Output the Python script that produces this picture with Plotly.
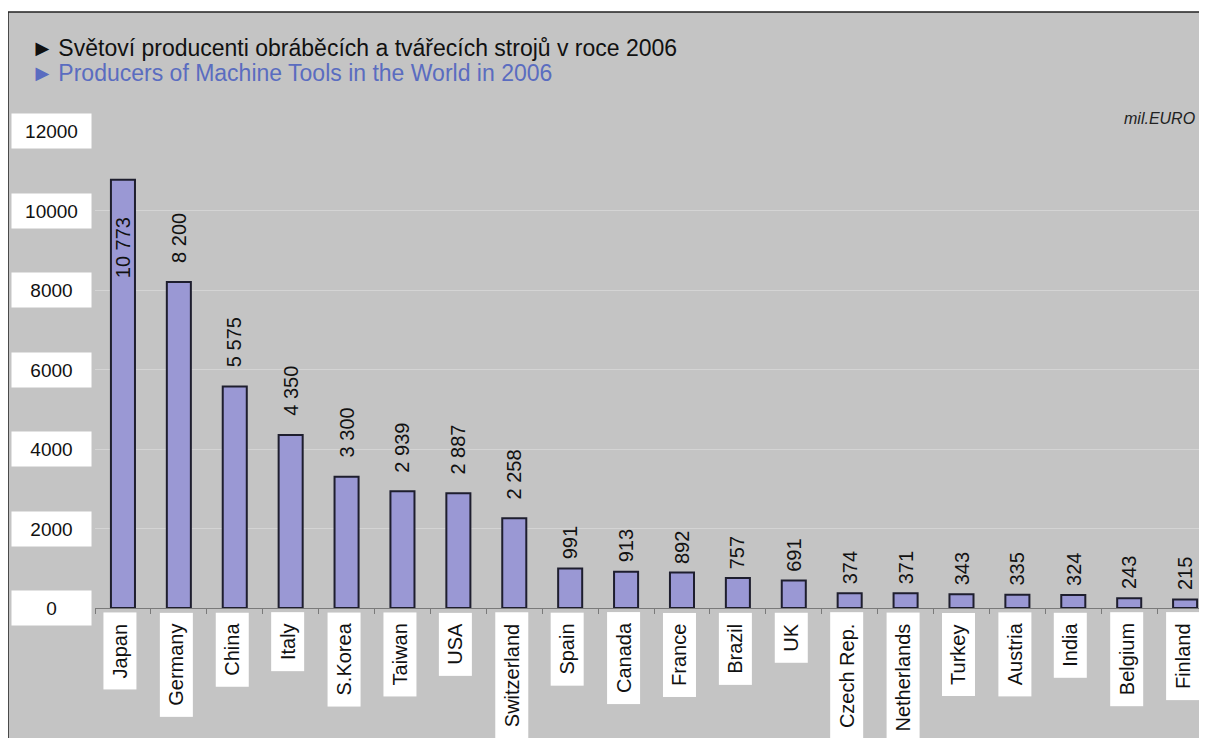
import plotly.graph_objects as go

countries = ["Japan", "Germany", "China", "Italy", "S.Korea", "Taiwan", "USA",
             "Switzerland", "Spain", "Canada", "France", "Brazil", "UK",
             "Czech Rep.", "Netherlands", "Turkey", "Austria", "India",
             "Belgium", "Finland"]
values = [10773, 8200, 5575, 4350, 3300, 2939, 2887, 2258, 991, 913, 892,
          757, 691, 374, 371, 343, 335, 324, 243, 215]
y_ticks = [0, 2000, 4000, 6000, 8000, 10000, 12000]

title_cz = "►\u2009Světoví producenti obráběcích a tvářecích strojů v roce 2006"
title_en = "►\u2009Producers of Machine Tools in the World in 2006"
unit = "mil.EURO"

FONT = "Liberation Sans, Arial, sans-serif"
BG = "#c4c4c4"

# page has an 8px body margin: screen px -> figure px
OFF = 8
W, H = 1207 - OFF, 738 - OFF
# plot area in screen pixels
L, R, T, B = 95, 1207, 131, 608
PW, PH = R - L, B - T


def px_x(p):
    return (p - L) / PW


def px_y(p):
    return (B - p) / PH


def fmt(v):
    return f"{v:,}".replace(",", " ")


fig = go.Figure()
fig.add_trace(go.Bar(
    x=countries, y=values, width=0.43,
    marker=dict(color="#9a98d4", line=dict(color="#1e1e2e", width=2)),
    hoverinfo="x+y", showlegend=False,
))

ann = []
# data labels
for i, (c, v) in enumerate(zip(countries, values)):
    t = fmt(v)
    if i == 0:
        ann.append(dict(x=c, y=v, text=t, textangle=-90, showarrow=False,
                        yanchor="top", yshift=-35,
                        font=dict(family=FONT, size=20, color="#111111")))
    else:
        ann.append(dict(x=c, y=v, text=t, textangle=-90, showarrow=False,
                        yanchor="bottom", yshift=5 * len(t) - 8,
                        font=dict(family=FONT, size=20, color="#111111")))

# category labels in white boxes
for c in countries:
    ann.append(dict(x=c, xref="x", y=0, yref="paper", yanchor="top",
                    yshift=-4, xshift=-3,
                    text="\u00a0" + c + "\u00a0", textangle=-90,
                    showarrow=False, bgcolor="white", borderpad=5,
                    font=dict(family=FONT, size=20, color="#111111")))

# value axis labels in white boxes
for v in y_ticks:
    ann.append(dict(x=px_x(51.5), xref="paper", y=v, yref="y",
                    xanchor="center", yanchor="middle", text=str(v),
                    showarrow=False, bgcolor="white", width=77, height=32,
                    borderpad=1,
                    font=dict(family=FONT, size=19, color="#111111")))

ann.append(dict(x=px_x(29), y=px_y(48), xref="paper", yref="paper",
                xanchor="left", yanchor="middle", text=title_cz,
                showarrow=False, font=dict(family=FONT, size=23, color="#111111")))
ann.append(dict(x=px_x(29), y=px_y(73), xref="paper", yref="paper",
                xanchor="left", yanchor="middle", text=title_en,
                showarrow=False, font=dict(family=FONT, size=23, color="#5a6cc0")))
ann.append(dict(x=px_x(1197), y=px_y(118), xref="paper", yref="paper",
                xanchor="right", yanchor="middle", text=f"<i>{unit}</i>",
                showarrow=False, font=dict(family=FONT, size=16, color="#222222")))

# grey frame of the chart
fig.add_shape(type="rect", xref="paper", yref="paper", layer="below",
              x0=px_x(8), x1=px_x(1212), y0=px_y(745), y1=px_y(12),
              fillcolor=BG, line=dict(color="#222222", width=1.5))

fig.update_xaxes(
    range=[-0.5, (R - 123) / 55.9], showline=True, linecolor="#7a7a7a",
    linewidth=1, ticks="outside", tickson="boundaries", ticklen=5,
    tickcolor="#7a7a7a", showticklabels=False, showgrid=False,
)
fig.update_yaxes(
    range=[0, 12000], tickvals=y_ticks, showticklabels=False,
    showgrid=True, gridcolor="#d4d4d4", gridwidth=1, zeroline=False,
)
fig.update_layout(
    width=W, height=H,
    margin=dict(l=L - OFF, r=1207 - R, t=T - OFF, b=H - (B - OFF)),
    paper_bgcolor="white", plot_bgcolor="rgba(0,0,0,0)",
    annotations=ann, bargap=0.5,
    font=dict(family=FONT),
)
fig.write_html("out.html")
